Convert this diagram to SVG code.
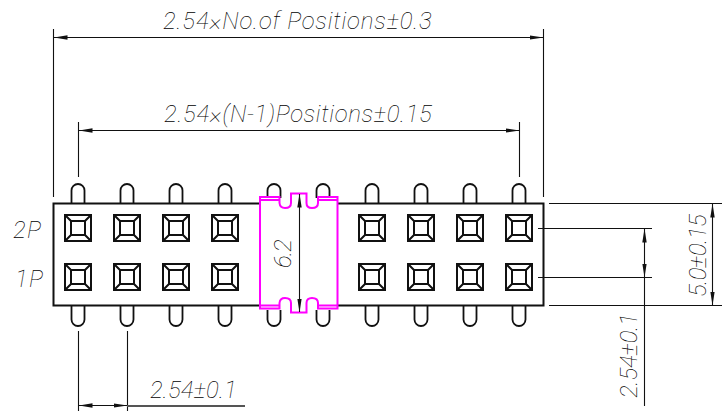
<svg xmlns="http://www.w3.org/2000/svg" width="722" height="411" viewBox="0 0 722 411">
<style>
.o{fill:none;stroke:#111;stroke-width:1.8}
.s{fill:none;stroke:#111;stroke-width:2}
.d{fill:none;stroke:#111;stroke-width:1.1}
.a{marker-start:url(#ah);marker-end:url(#ah)}
.m{fill:none;stroke:#f0f;stroke-width:2}
.t{font-family:"Roboto","Liberation Sans",sans-serif;font-style:italic;font-weight:100;font-size:24px;fill:#000;letter-spacing:1.2px}
</style>
<defs>
<marker id="ah" viewBox="0 0 14 6" refX="13.5" refY="3" markerWidth="14" markerHeight="6" markerUnits="userSpaceOnUse" orient="auto-start-reverse"><path d="M14 3L0 0.8V5.2Z" fill="#111"/></marker>
<g id="sq"><rect x="-13" y="-13" width="26" height="26" class="s"/><rect x="-7" y="-7" width="14" height="14" class="s"/><path d="M-13-13L-7-7M13-13L7-7M-13 13L-7 7M13 13L7 7" class="s"/></g>
<path id="pt" d="M-6.500 19V-12.500A6.500 6.500 0 0 1 6.500-12.500V19" class="o"/>
<path id="pb" d="M-6.500-19V12.500A6.500 6.500 0 0 0 6.500 12.500V-19" class="o"/>
</defs>
<g id="pins">
<use href="#pt" x="78" y="203"/><use href="#pt" x="127" y="203"/><use href="#pt" x="176" y="203"/><use href="#pt" x="225" y="203"/><path d="M267.500 198V190.500A6.500 6.500 0 0 1 280.500 190.500V198M316.500 198V190.500A6.500 6.500 0 0 1 329.500 190.500V198" class="o"/><use href="#pt" x="372" y="203"/><use href="#pt" x="421" y="203"/><use href="#pt" x="470" y="203"/><use href="#pt" x="519" y="203"/>
<use href="#pb" x="78" y="307"/><use href="#pb" x="127" y="307"/><use href="#pb" x="176" y="307"/><use href="#pb" x="225" y="307"/><path d="M267.500 310V319.500A6.500 6.500 0 0 0 280.500 319.500V310M316.500 310V319.500A6.500 6.500 0 0 0 329.500 319.500V310" class="o"/><use href="#pb" x="372" y="307"/><use href="#pb" x="421" y="307"/><use href="#pb" x="470" y="307"/><use href="#pb" x="519" y="307"/>
</g>
<g id="body">
<path d="M260 203.500H53.500V305.500H260M338 305.500H543.500V203.500H338" fill="#fff" stroke="#111" stroke-width="2"/>
</g>
<g id="contacts">
<use href="#sq" x="78" y="228"/><use href="#sq" x="127" y="228"/><use href="#sq" x="176" y="228"/><use href="#sq" x="225" y="228"/><use href="#sq" x="372" y="228"/><use href="#sq" x="421" y="228"/><use href="#sq" x="470" y="228"/><use href="#sq" x="519" y="228"/>
<use href="#sq" x="78" y="277"/><use href="#sq" x="127" y="277"/><use href="#sq" x="176" y="277"/><use href="#sq" x="225" y="277"/><use href="#sq" x="372" y="277"/><use href="#sq" x="421" y="277"/><use href="#sq" x="470" y="277"/><use href="#sq" x="519" y="277"/>
</g>
<g id="cut">
<path class="m" d="M260 197H279.500V203Q280 208 285 208Q291 208 291 203V193.500H306.500V203Q306.500 208 312 208Q318 208 318 203V197H337.500V308.500H318V303Q318 298 312 298Q306.500 298 306.500 303V312.500H291V303Q291 298 285 298Q280 298 279.500 303V308.500H260Z"/>
<path class="m" d="M260 200H279.500M318 200H337.500M260 305.500H279.500M318 305.500H337.500"/>
</g>
<g id="connectors">
<path class="d" d="M53.500 29V197M543.500 29V197M78.500 122V177M519.500 122V177M78.500 331V411M127.500 331V411M549 203.500H722M549 305.500H722M538 228.500H652M538 277.500H652"/>
<path class="d a" d="M54 37.500H543"/>
<path class="d a" d="M79 130.500H519"/>
<path d="M127 406H245" fill="none" stroke="#555" stroke-width="2"/>
<path class="d a" d="M79 405.500H127"/>
<path class="d" d="M644.500 277V406"/>
<path class="d a" d="M644.500 229V277"/>
<path class="d a" d="M712.500 204V305"/>
<path class="d a" d="M299.500 194V312"/>
</g>
<g id="labels">
<text class="t" x="163" y="29" textLength="270">2.54×No.of Positions±0.3</text>
<text class="t" x="164" y="122" textLength="269">2.54×(N-1)Positions±0.15</text>
<text class="t" x="150" y="398" textLength="88">2.54±0.1</text>
<text class="t" x="13" y="238">2P</text>
<text class="t" x="15" y="287">1P</text>
<text class="t" transform="translate(291 268) rotate(-90)" textLength="30">6.2</text>
<text class="t" transform="translate(706 297) rotate(-90)" textLength="84">5.0±0.15</text>
<text class="t" transform="translate(637 398) rotate(-90)" textLength="86">2.54±0.1</text>
</g>
</svg>
